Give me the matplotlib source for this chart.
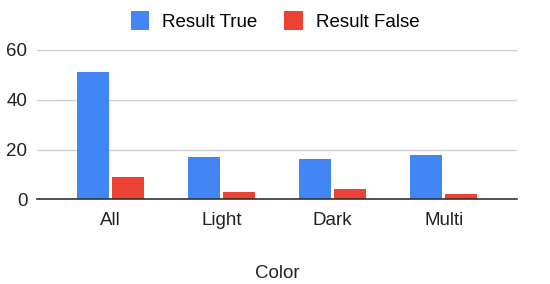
import matplotlib.pyplot as plt
import numpy as np

plt.rcParams["font.family"] = ["Liberation Sans", "DejaVu Sans"]

# Data
categories = ["All", "Light", "Dark", "Multi"]
result_true = [51, 17, 16, 18]
result_false = [9, 3, 4, 2]

fig = plt.figure(figsize=(5.5, 2.84), dpi=100)
ax = fig.add_axes([37 / 550, 84.7 / 284, 480 / 550, 149.3 / 284])

x = np.arange(len(categories))
w = 0.29
ax.bar(x - w / 2 - 0.014, result_true, w, color="#4285F4", label="Result True")
ax.bar(x + w / 2 + 0.014, result_false, w, color="#EA4335", label="Result False")

ax.set_xlim(-0.66, 3.66)
ax.set_ylim(0, 60)
ax.set_yticks([0, 20, 40, 60])
ax.set_xticks(x)
ax.set_xticklabels(categories)
ax.tick_params(axis="both", length=0, labelsize=13.5, colors="#222222")
ax.tick_params(axis="x", pad=9)
ax.tick_params(axis="y", pad=7)

# Grid and spines
ax.grid(axis="y", color="#cccccc", linewidth=1)
ax.set_axisbelow(True)
for s in ["top", "right", "left"]:
    ax.spines[s].set_visible(False)
ax.spines["bottom"].set_color("#333333")
ax.spines["bottom"].set_linewidth(1.2)
ax.spines["bottom"].set_zorder(5)

ax.set_xlabel("Color", fontsize=13.5, color="#222222", labelpad=26)

fig.legend(loc="upper center", bbox_to_anchor=(0.5, 1.02), ncol=2, frameon=False,
           fontsize=13.5, handlelength=1.0, handleheight=1.2, columnspacing=1.4,
           handletextpad=0.7)

plt.savefig("out.png", dpi=100)
